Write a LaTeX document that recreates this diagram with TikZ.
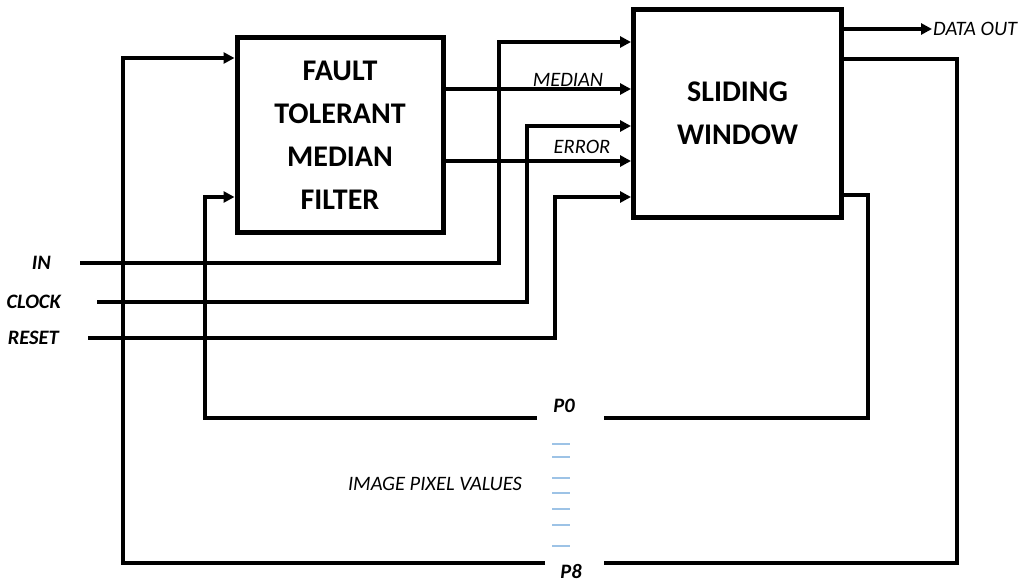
\documentclass[tikz,border=0pt]{standalone}
\usepackage{fontspec}
\setmainfont{Carlito}
\usetikzlibrary{arrows.meta}
\definecolor{pixblue}{RGB}{157,195,230}

\begin{document}
\begin{tikzpicture}[x=1pt, y=-1pt, >={Triangle[length=11pt,width=11pt]},
    block/.style={draw, line width=5pt, align=center, font=\fontsize{30}{43}\selectfont\bfseries},
    sig/.style={line width=3.8pt},
    lbl/.style={inner sep=1pt, font=\fontsize{20.5}{23}\selectfont\itshape},
    pin/.style={inner sep=1pt, font=\fontsize{20.5}{23}\selectfont\bfseries\itshape}]
    \useasboundingbox (0,0) rectangle (1024,583);
    % blocks
    \node[block, minimum width=206pt, minimum height=194pt] (ftmf) at (340,135) {FAULT\\TOLERANT\\MEDIAN\\FILTER};
    \node[block, minimum width=208pt, minimum height=208pt] (sw) at (737.5,113.5) {SLIDING\\WINDOW};
    % inputs
    \node[pin, anchor=east] (in) at (52,263) {IN};
    \node[pin, anchor=east] (clock) at (62,302) {CLOCK};
    \node[pin, anchor=east] (reset) at (60,338) {RESET};
    \coordinate (inS) at (80,263);
    \coordinate (clkS) at (97,302);
    \coordinate (rstS) at (88,338);
    \draw[sig,->] (inS) -| (499,42) -- (sw.west |- 0,42);
    \draw[sig,->] (clkS) -| (527,126) -- (sw.west |- 0,126);
    \draw[sig,->] (rstS) -| (555,197) -- (sw.west |- 0,197);
    % filter outputs
    \draw[sig,->] (ftmf.east |- 0,89) -- (sw.west |- 0,89);
    \draw[sig,->] (ftmf.east |- 0,161) -- (sw.west |- 0,161);
    \node[lbl] (median) at (568,80) {MEDIAN};
    \node[lbl] (error) at (582,147) {ERROR};
    % output
    \node[lbl, anchor=west] (dout) at (932,29) {DATA OUT};
    \draw[sig,->] (sw.east |- 0,29) -- (dout.west);
    % pixel loops
    \node[pin] (p0) at (564,406) {P0};
    \node[pin] (p8) at (571,571) {P8};
    \coordinate (p0L) at (537,418);
    \coordinate (p0R) at (604,418);
    \coordinate (p8L) at (545,563);
    \coordinate (p8R) at (604,563);
    \draw[sig] (sw.east |- 0,195) -| (868,418) -- (p0R);
    \draw[sig,->] (p0L) -| (205,197) -- (ftmf.west |- 0,197);
    \draw[sig] (sw.east |- 0,59) -| (957,563) -- (p8R);
    \draw[sig,->] (p8L) -| (123,58) -- (ftmf.west |- 0,58);
    % pixel values
    \foreach \y in {444,457,478,493,509,525,546}{\draw[pixblue, line width=1.8pt] (552,\y) -- (570,\y);}
    \node[lbl] (ipv) at (435,484) {IMAGE PIXEL VALUES};
\end{tikzpicture}
\end{document}
